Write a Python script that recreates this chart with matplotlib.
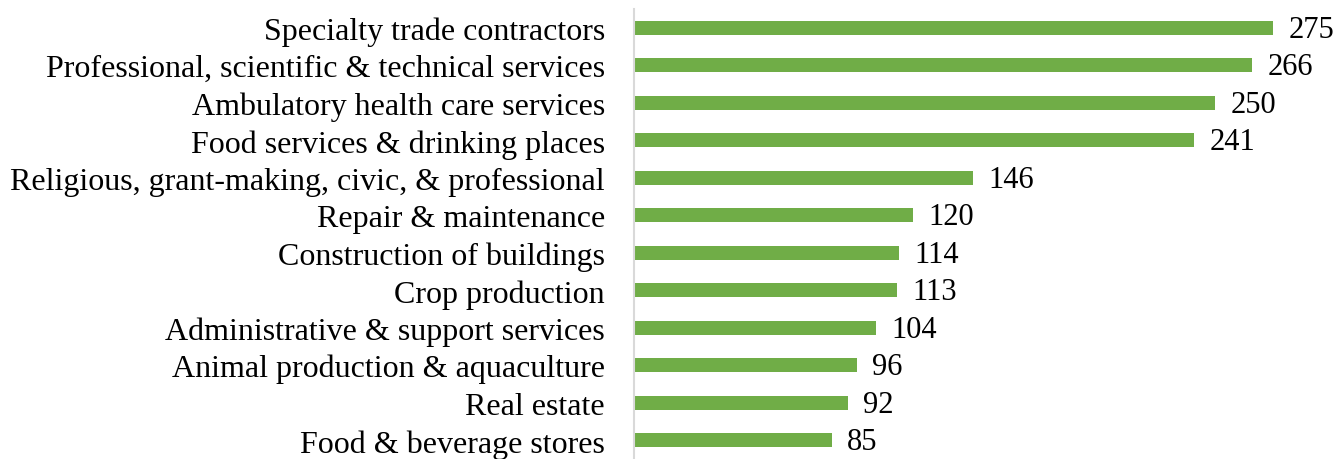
import matplotlib.pyplot as plt

categories = [
    "Specialty trade contractors",
    "Professional, scientific & technical services",
    "Ambulatory health care services",
    "Food services & drinking places",
    "Religious, grant-making, civic, & professional",
    "Repair & maintenance",
    "Construction of buildings",
    "Crop production",
    "Administrative & support services",
    "Animal production & aquaculture",
    "Real estate",
    "Food & beverage stores",
]
values = [275, 266, 250, 241, 146, 120, 114, 113, 104, 96, 92, 85]

plt.rcParams['font.family'] = ['Liberation Serif', 'DejaVu Serif']

fig = plt.figure(figsize=(13.36, 4.6), dpi=100)
ax = fig.add_axes([634 / 1336, 0.0, 702 / 1336, 450 / 460])

y = list(range(len(categories)))
ax.barh(y, values, height=0.38, color='#70ad47')
for yi, v in zip(y, values):
    ax.annotate(str(v), (v, yi), xytext=(11, -1), textcoords='offset points',
                va='center', ha='left', fontsize=22)

ax.set_ylim(len(categories) - 0.5, -0.5)
ax.set_xlim(0, 302)
ax.set_yticks(y)
ax.set_yticklabels(categories, fontsize=23)
ax.tick_params(axis='y', length=0, pad=21)
ax.set_xticks([])
for s in ['top', 'right', 'bottom']:
    ax.spines[s].set_visible(False)
ax.spines['left'].set_color('#d9d9d9')
ax.spines['left'].set_linewidth(1.5)

fig.savefig('out.png', dpi=100, facecolor='white')
